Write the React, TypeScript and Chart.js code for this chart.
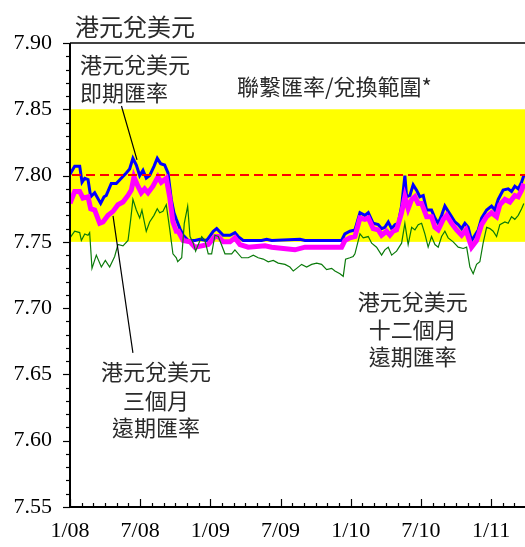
import React, { useEffect, useRef } from 'react';
import { Chart, registerables } from 'chart.js';

Chart.register(...registerables);

// ---- Data (months since Jan 2008, HKD per USD) ----
const spotMonths = [0,0.4,0.83,1.03,1.26,1.54,1.77,2.11,2.62,2.91,3.1,3.53,3.96,4.38,4.81,5.1,5.38,5.67,5.96,6.24,6.52,6.81,7.18,7.46,7.75,8.09,8.38,8.66,8.89,9.09,9.4,9.68,10.11,10.68,11.11,11.68,12.25,12.54,13.1,13.68,14.1,14.38,14.81,16.38,16.81,17.24,19.66,20.09,23.22,23.5,23.93,24.36,24.79,25.21,25.5,25.92,26.35,26.64,26.92,27.21,27.5,27.78,28.06,28.35,28.63,28.78,29.06,29.34,29.63,29.91,30.2,30.49,30.91,31.2,31.48,31.77,32.05,32.33,32.62,32.91,33.19,33.48,33.76,34.04,34.33,34.62,34.9,35.19,35.62,36.04,36.32,36.61,37.03,37.46,37.75,38.03,38.32,38.61,38.8];
const spotRates = [7.801,7.807,7.807,7.795,7.798,7.797,7.784,7.787,7.779,7.784,7.785,7.794,7.794,7.798,7.802,7.805,7.813,7.808,7.800,7.804,7.798,7.800,7.807,7.813,7.809,7.808,7.802,7.782,7.772,7.767,7.760,7.755,7.751,7.751,7.752,7.751,7.758,7.760,7.755,7.755,7.757,7.754,7.751,7.751,7.752,7.751,7.752,7.751,7.751,7.756,7.758,7.759,7.772,7.770,7.772,7.764,7.763,7.760,7.761,7.765,7.760,7.763,7.764,7.777,7.800,7.784,7.785,7.793,7.789,7.784,7.785,7.774,7.774,7.768,7.764,7.770,7.777,7.773,7.769,7.765,7.763,7.760,7.764,7.761,7.751,7.755,7.759,7.768,7.774,7.777,7.774,7.782,7.789,7.790,7.788,7.792,7.790,7.795,7.800];

const fwd3mMonths = [0,0.4,0.83,1.11,1.54,1.77,2.11,2.54,2.82,3.25,3.68,4.1,4.53,4.96,5.24,5.47,5.81,6.09,6.38,6.67,7.09,7.52,7.8,8.23,8.52,8.8,9.09,9.26,9.68,10.26,10.68,11.26,11.82,12.39,12.68,13.1,13.68,14.1,14.53,15.24,16.67,17.24,19.23,20.09,20.94,23.22,23.5,23.93,24.36,24.79,25.21,25.5,25.92,26.35,26.64,27.06,27.35,27.63,27.92,28.35,28.63,28.91,29.21,29.49,29.77,30.06,30.49,30.91,31.2,31.48,31.91,32.2,32.62,33.05,33.48,33.85,34.33,34.76,35.19,35.62,36.04,36.47,36.75,37.18,37.61,38.03,38.32,38.61,38.8];
const fwd3mRates = [7.779,7.788,7.788,7.783,7.784,7.775,7.774,7.764,7.765,7.770,7.773,7.778,7.780,7.785,7.789,7.799,7.792,7.787,7.790,7.787,7.792,7.799,7.795,7.798,7.784,7.765,7.758,7.758,7.751,7.750,7.746,7.747,7.748,7.754,7.754,7.750,7.750,7.753,7.748,7.746,7.747,7.746,7.744,7.746,7.746,7.746,7.751,7.753,7.754,7.768,7.767,7.768,7.760,7.759,7.755,7.758,7.755,7.758,7.759,7.772,7.784,7.775,7.782,7.784,7.779,7.779,7.769,7.769,7.761,7.759,7.767,7.770,7.764,7.759,7.755,7.759,7.746,7.751,7.763,7.769,7.772,7.769,7.778,7.782,7.780,7.785,7.784,7.789,7.794];

const fwd12mMonths = [0,0.4,0.83,0.97,1.26,1.54,1.68,1.88,2.25,2.68,3.02,3.39,3.82,4.1,4.53,4.96,5.19,5.38,5.67,5.96,6.15,6.52,6.81,7.18,7.46,7.67,7.95,8.23,8.52,8.8,9.09,9.21,9.55,9.77,10.06,10.26,10.54,10.74,10.97,11.26,11.54,11.82,12.11,12.39,12.68,13.25,13.82,14.1,14.68,15.24,15.67,16.09,16.52,16.95,17.38,17.8,18.38,18.8,19.09,19.38,19.8,20.23,20.66,21.09,21.51,21.94,22.37,22.65,23.08,23.36,23.56,23.93,24.21,24.36,24.79,25.07,25.5,25.79,26.21,26.64,26.92,27.21,27.5,27.92,28.35,28.63,28.91,29.21,29.49,29.77,30.06,30.34,30.62,30.91,31.2,31.48,31.77,32.05,32.33,32.76,33.19,33.62,33.91,34.19,34.47,34.76,35.04,35.32,35.62,35.9,36.18,36.47,36.75,37.18,37.46,37.75,38.03,38.32,38.61,38.8];
const fwd12mRates = [7.753,7.758,7.757,7.751,7.756,7.755,7.757,7.730,7.740,7.731,7.736,7.731,7.739,7.748,7.747,7.751,7.767,7.782,7.774,7.768,7.774,7.758,7.765,7.770,7.775,7.772,7.773,7.778,7.760,7.741,7.738,7.735,7.738,7.764,7.777,7.754,7.749,7.743,7.748,7.754,7.751,7.741,7.741,7.755,7.754,7.741,7.741,7.744,7.738,7.738,7.740,7.738,7.737,7.735,7.736,7.734,7.733,7.731,7.728,7.730,7.733,7.731,7.733,7.734,7.733,7.729,7.730,7.728,7.726,7.724,7.737,7.738,7.739,7.741,7.756,7.753,7.754,7.749,7.746,7.740,7.744,7.746,7.740,7.743,7.749,7.764,7.748,7.761,7.759,7.763,7.764,7.756,7.746,7.754,7.748,7.746,7.754,7.758,7.753,7.750,7.746,7.745,7.746,7.731,7.726,7.733,7.735,7.749,7.761,7.760,7.758,7.754,7.763,7.765,7.764,7.769,7.767,7.770,7.775,7.779];

const xTickMonths = [0, 6, 12, 18, 24, 30, 36];
const xTickLabels = ['1/08', '7/08', '1/09', '7/09', '1/10', '7/10', '1/11'];
const yMin = 7.55;
const yMax = 7.90;
const xMax = 38.9;

const bandLow = 7.75;
const bandHigh = 7.85;
const pegRate = 7.80;

const chartTitle = '港元兌美元';
const bandLabel = '聯繫匯率/兌換範圍*';
const spotLabel = ['港元兌美元', '即期匯率'];
const fwd3mLabel = ['港元兌美元', '三個月', '遠期匯率'];
const fwd12mLabel = ['港元兌美元', '十二個月', '遠期匯率'];

// ---- Styling / annotation placement ----
const CJK = '"Noto Sans CJK TC", "Noto Sans CJK SC", sans-serif';
const SERIF = '"Liberation Serif", "DejaVu Serif", serif';

const pts = (xs: number[], ys: number[]) => xs.map((x, i) => ({ x, y: ys[i] }));

const decor = {
  id: 'decor',
  beforeDatasetsDraw(chart: any) {
    const { ctx, chartArea: a, scales } = chart;
    const y = scales.y;
    ctx.save();
    ctx.fillStyle = '#ffff00';
    const t = y.getPixelForValue(bandHigh);
    const b = y.getPixelForValue(bandLow);
    ctx.fillRect(a.left, t, a.right - a.left, b - t);
    ctx.restore();
  },
  afterDatasetsDraw(chart: any) {
    const { ctx, chartArea: a, scales } = chart;
    const py = Math.round(scales.y.getPixelForValue(pegRate)) - 1;
    ctx.save();
    ctx.strokeStyle = '#ff0000';
    ctx.lineWidth = 2.2;
    ctx.setLineDash([9, 5]);
    ctx.beginPath();
    ctx.moveTo(a.left + 2, py);
    ctx.lineTo(a.right, py);
    ctx.stroke();
    ctx.restore();
  },
  afterDraw(chart: any) {
    const { ctx, chartArea: a, scales } = chart;
    const xs = scales.x;
    const ys = scales.y;
    const px = (m: number) => xs.getPixelForValue(m);
    const py = (v: number) => ys.getPixelForValue(v);
    ctx.save();
    ctx.strokeStyle = '#000';
    // frame: left, bottom, top
    ctx.lineWidth = 2;
    ctx.beginPath();
    ctx.moveTo(a.left, a.top);
    ctx.lineTo(a.left, a.bottom);
    ctx.lineTo(a.right, a.bottom);
    ctx.stroke();
    ctx.lineWidth = 1.5;
    ctx.beginPath();
    ctx.moveTo(a.left, a.top);
    ctx.lineTo(a.right, a.top);
    ctx.stroke();
    // y ticks (outside, left)
    ctx.lineWidth = 1.2;
    for (let k = 0; k <= Math.round((yMax - yMin) * 100); k++) {
      const v = yMin + k / 100;
      const yy = Math.round(py(v)) + 0.5;
      const major = k % 5 === 0;
      ctx.beginPath();
      ctx.moveTo(a.left - (major ? 7 : 4), yy);
      ctx.lineTo(a.left, yy);
      ctx.stroke();
    }
    // x ticks (inside, upward)
    for (let m = 0; m <= Math.floor(xMax); m++) {
      const xx = Math.round(px(m)) + 0.5;
      const major = m % 6 === 0;
      ctx.beginPath();
      ctx.moveTo(xx, a.bottom);
      ctx.lineTo(xx, a.bottom - (major ? 8 : 4));
      ctx.stroke();
    }
    // pointer lines
    ctx.lineWidth = 1.2;
    ctx.beginPath();
    ctx.moveTo(px(4.4), py(7.8525));
    ctx.lineTo(px(5.73), py(7.8118));
    ctx.moveTo(px(3.68), py(7.7696));
    ctx.lineTo(px(5.38), py(7.6663));
    ctx.stroke();

    // texts
    ctx.fillStyle = '#2a2a2a';
    ctx.textBaseline = 'middle';
    ctx.font = `24px ${CJK}`;
    ctx.textAlign = 'left';
    ctx.fillText(chartTitle, px(0.43), py(7.912));

    ctx.font = `22px ${CJK}`;
    ctx.textAlign = 'left';
    const spotY = [7.8834, 7.8623];
    spotLabel.forEach((s, i) => ctx.fillText(s, px(0.85), py(spotY[i])));

    ctx.textAlign = 'center';
    ctx.fillText(bandLabel, px(22.6), py(7.8668));

    const f3Y = [7.652, 7.630, 7.610];
    fwd3mLabel.forEach((s, i) => ctx.fillText(s, px(7.35), py(f3Y[i])));

    const f12Y = [7.7047, 7.6836, 7.6632];
    fwd12mLabel.forEach((s, i) => ctx.fillText(s, px(29.3), py(f12Y[i])));
    ctx.restore();
  },
};

export default function App() {
  const ref = useRef<HTMLCanvasElement>(null);
  useEffect(() => {
    const canvas = ref.current;
    if (!canvas) return;
    const chart = new Chart(canvas, {
      type: 'line',
      data: {
        datasets: [
          { label: 'spot', data: pts(spotMonths, spotRates), borderColor: '#0000ff', borderWidth: 3, pointRadius: 0, tension: 0, fill: false, order: 3 },
          { label: '3m', data: pts(fwd3mMonths, fwd3mRates), borderColor: '#ff00ff', borderWidth: 5, pointRadius: 0, tension: 0, fill: false, order: 2 },
          { label: '12m', data: pts(fwd12mMonths, fwd12mRates), borderColor: '#0a7a0a', borderWidth: 1.2, pointRadius: 0, tension: 0, fill: false, order: 1 },
        ],
      },
      options: {
        animation: false,
        responsive: false,
        devicePixelRatio: 1,
        layout: { padding: { top: 43, right: 0, left: 0, bottom: 0 } },
        plugins: { legend: { display: false }, tooltip: { enabled: false }, title: { display: false } },
        scales: {
          x: {
            type: 'linear',
            min: 0,
            max: xMax,
            afterFit: (s: any) => { s.height = 40; },
            grid: { display: false, drawTicks: false },
            border: { display: false },
            ticks: {
              stepSize: 6,
              includeBounds: false,
              autoSkip: false,
              maxRotation: 0,
              padding: 11,
              color: '#000',
              font: { family: SERIF, size: 22 },
              callback: (v: any) => {
                const i = xTickMonths.findIndex((m) => Math.abs(m - v) < 1e-6);
                return i >= 0 ? xTickLabels[i] : '';
              },
            },
          },
          y: {
            type: 'linear',
            min: yMin,
            max: yMax,
            afterFit: (s: any) => { s.width = 70; },
            grid: { display: false, drawTicks: false },
            border: { display: false },
            ticks: {
              stepSize: 0.05,
              padding: 18,
              color: '#000',
              font: { family: SERIF, size: 22 },
              callback: (v: any) => Number(v).toFixed(2),
            },
          },
        },
      },
      plugins: [decor],
    } as any);
    return () => chart.destroy();
  }, []);
  return (
    <canvas
      ref={ref}
      width={525}
      height={547}
      style={{ position: 'fixed', left: 0, top: 0, width: 525, height: 547 }}
    />
  );
}
